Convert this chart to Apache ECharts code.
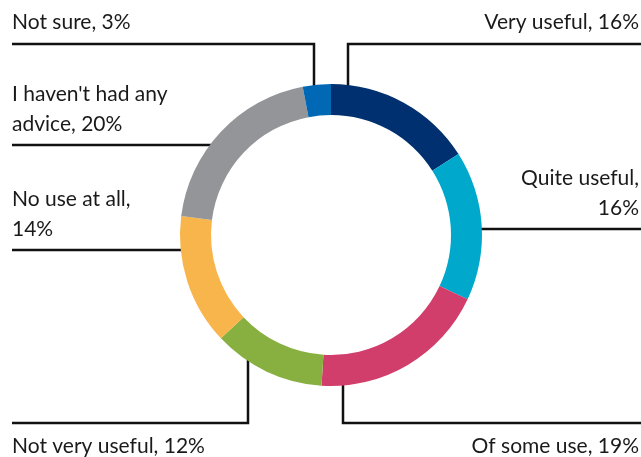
<!DOCTYPE html>
<html>
<head>
<meta charset="utf-8">
<script src="https://cdn.jsdelivr.net/npm/echarts@6/dist/echarts.min.js"></script>
<style>
  html, body { margin: 0; padding: 0; background: #fff; }
  #chart { width: 641px; height: 457px; }
</style>
</head>
<body>
<div id="chart"></div>
<script>
const categories = ["Very useful", "Quite useful", "Of some use", "Not very useful", "No use at all", "I haven't had any\nadvice", "Not sure"];
const values = [16, 16, 19, 12, 14, 20, 3];
const colors = ["#00306f", "#00a9cc", "#d13e6b", "#88b040", "#f8b54c", "#939598", "#0068b4"];
// labels that break after the comma
const breakAfterComma = [false, true, false, false, true, false, false];

const cx = 331, cy = 235, rIn = 120, rOut = 151;

// where a vertical / horizontal leader meets the outer edge of the ring
const ringY = (x, side) => cy + side * Math.sqrt(rOut * rOut - (x - cx) * (x - cx));
const ringX = (y, side) => cx + side * Math.sqrt(rOut * rOut - (y - cy) * (y - cy));

// label placement: anchor, alignment, and leader line path
const layouts = [
  { x: 639, y: 37, align: "right", va: "bottom", line: [[348, ringY(348, -1) + 2], [348, 44], [641, 44]] },
  { x: 639, y: 223, align: "right", va: "bottom", line: [[ringX(229, 1) - 2, 229], [ringX(229, 1) - 2, 229], [641, 229]] },
  { x: 639, y: 431, align: "right", va: "top", line: [[343, ringY(343, 1) - 2], [343, 423], [641, 423]] },
  { x: 12, y: 431, align: "left", va: "top", line: [[248, ringY(248, 1) - 2], [248, 423], [12, 423]] },
  { x: 12, y: 244, align: "left", va: "bottom", line: [[ringX(250, -1) + 2, 250], [ringX(250, -1) + 2, 250], [12, 250]] },
  { x: 12, y: 139, align: "left", va: "bottom", line: [[ringX(145, -1) + 2, 145], [ringX(145, -1) + 2, 145], [12, 145]] },
  { x: 12, y: 37, align: "left", va: "bottom", line: [[314, ringY(314, -1) + 2], [314, 44], [12, 44]] }
];

const chart = echarts.init(document.getElementById("chart"));
chart.setOption({
  animation: false,
  backgroundColor: "#fff",
  series: [{
    type: "pie",
    center: [cx, cy],
    radius: [rIn, rOut],
    startAngle: 90,
    clockwise: true,
    avoidLabelOverlap: false,
    silent: true,
    data: categories.map((name, i) => ({ name, value: values[i], itemStyle: { color: colors[i] } })),
    label: {
      show: true,
      position: "outer",
      color: "#1a1a1a",
      fontFamily: "Lato",
      fontSize: 21,
      lineHeight: 30,
      formatter: (p) => p.name + "," + (breakAfterComma[p.dataIndex] ? "\n" : " ") + p.value + "%"
    },
    labelLine: {
      show: true,
      lineStyle: { color: "#111", width: 2.5 }
    },
    labelLayout: (p) => {
      const l = layouts[p.dataIndex];
      return {
        x: l.x,
        y: l.y,
        align: l.align,
        verticalAlign: l.va,
        labelLinePoints: l.line
      };
    }
  }]
});
</script>
</body>
</html>
